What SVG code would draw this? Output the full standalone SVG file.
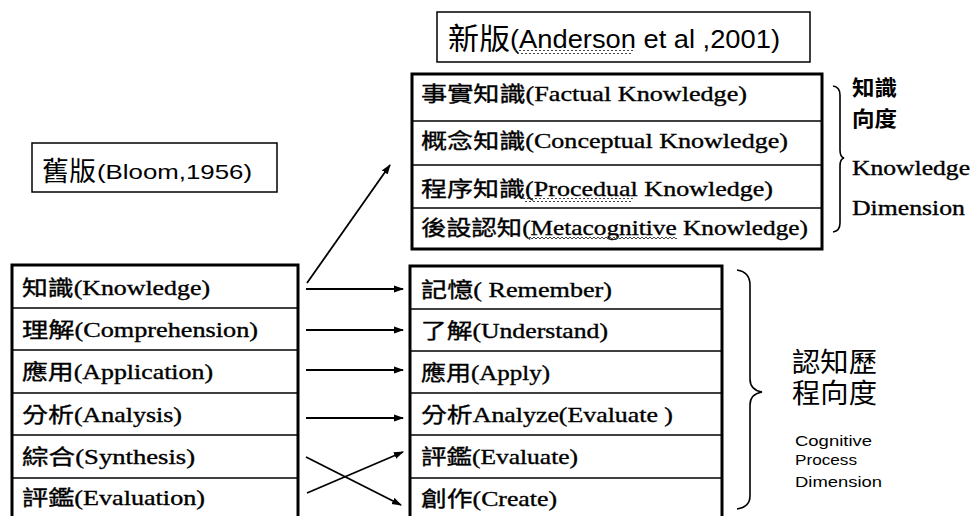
<svg xmlns="http://www.w3.org/2000/svg" width="972" height="516" viewBox="0 0 972 516">
<defs>
<marker id="ah" markerWidth="10" markerHeight="8" refX="9" refY="4" orient="auto" markerUnits="userSpaceOnUse"><path d="M0,0.5 L10,4 L0,7.5 z" fill="#000"/></marker>
<pattern id="wave" width="4" height="4" patternUnits="userSpaceOnUse"><path d="M0,3 L2,1 L4,3" stroke="#444" fill="none" stroke-width="1"/></pattern>
</defs>
<style>
.box{fill:#fff;stroke:#000;stroke-width:3}
.lbl{fill:#fff;stroke:#000;stroke-width:1.5}
.div{stroke:#000;stroke-width:1.5}
.t{font-family:"Liberation Serif","Noto Sans CJK TC",serif;font-size:21px;fill:#000;stroke:#000;stroke-width:0.35}
.s{font-family:"Liberation Sans","Noto Sans CJK TC",sans-serif;fill:#000}
.conn{stroke:#000;stroke-width:1.8;fill:none}
.brace{stroke:#000;stroke-width:1.6;fill:none}
</style>
<rect width="972" height="516" fill="#fff"/>

<g id="header-old">
<rect class="lbl" x="32" y="143" width="245" height="49"/>
<text class="s" x="42" y="181" font-size="27" textLength="54" lengthAdjust="spacingAndGlyphs">舊版</text>
<text class="s" x="97" y="179" font-size="21" textLength="155" lengthAdjust="spacingAndGlyphs">(Bloom,1956)</text>
</g>

<g id="header-new">
<rect class="lbl" x="437" y="12" width="373" height="50"/>
<text class="s" x="448" y="49" font-size="30" textLength="62" lengthAdjust="spacingAndGlyphs">新版</text>
<text class="s" x="510" y="48" font-size="25" textLength="270" lengthAdjust="spacingAndGlyphs">(Anderson et al ,2001)</text>
<rect x="515" y="50" width="118" height="4" fill="url(#wave)"/>
</g>

<g id="knowledge-table">
<rect class="box" x="412" y="74" width="410" height="175"/>
<line class="div" x1="412" y1="121" x2="822" y2="121"/>
<line class="div" x1="412" y1="165" x2="822" y2="165"/>
<line class="div" x1="412" y1="208" x2="822" y2="208"/>
<g id="k-factual"><text class="t" x="421" y="101" textLength="326" lengthAdjust="spacingAndGlyphs">事實知識(Factual Knowledge)</text></g>
<g id="k-conceptual"><text class="t" x="421" y="148" textLength="367" lengthAdjust="spacingAndGlyphs">概念知識(Conceptual Knowledge)</text></g>
<g id="k-procedural"><text class="t" x="421" y="196" textLength="352" lengthAdjust="spacingAndGlyphs">程序知識(Procedual Knowledge)</text>
<rect x="523" y="198" width="110" height="4" fill="url(#wave)"/></g>
<g id="k-meta"><text class="t" x="421" y="235" textLength="387" lengthAdjust="spacingAndGlyphs">後設認知(Metacognitive Knowledge)</text>
<rect x="528" y="237" width="149" height="4" fill="url(#wave)"/></g>
</g>

<g id="old-table">
<rect class="box" x="12" y="265" width="286" height="270"/>
<line class="div" x1="12" y1="308" x2="298" y2="308"/>
<line class="div" x1="12" y1="350" x2="298" y2="350"/>
<line class="div" x1="12" y1="393" x2="298" y2="393"/>
<line class="div" x1="12" y1="435" x2="298" y2="435"/>
<line class="div" x1="12" y1="478" x2="298" y2="478"/>
<g id="o-knowledge"><text class="t" x="22" y="295" textLength="188" lengthAdjust="spacingAndGlyphs">知識(Knowledge)</text></g>
<g id="o-comprehension"><text class="t" x="22" y="337" textLength="236" lengthAdjust="spacingAndGlyphs">理解(Comprehension)</text></g>
<g id="o-application"><text class="t" x="22" y="379" textLength="191" lengthAdjust="spacingAndGlyphs">應用(Application)</text></g>
<g id="o-analysis"><text class="t" x="22" y="422" textLength="160" lengthAdjust="spacingAndGlyphs">分析(Analysis)</text></g>
<g id="o-synthesis"><text class="t" x="22" y="464" textLength="173" lengthAdjust="spacingAndGlyphs">綜合(Synthesis)</text></g>
<g id="o-evaluation"><text class="t" x="22" y="505" textLength="183" lengthAdjust="spacingAndGlyphs">評鑑(Evaluation)</text></g>
</g>

<g id="new-table">
<rect class="box" x="410" y="266" width="312" height="270"/>
<line class="div" x1="410" y1="309" x2="722" y2="309"/>
<line class="div" x1="410" y1="351" x2="722" y2="351"/>
<line class="div" x1="410" y1="393" x2="722" y2="393"/>
<line class="div" x1="410" y1="435" x2="722" y2="435"/>
<line class="div" x1="410" y1="478" x2="722" y2="478"/>
<g id="n-remember"><text class="t" x="421" y="297" textLength="191" lengthAdjust="spacingAndGlyphs">記憶( Remember)</text></g>
<g id="n-understand"><text class="t" x="421" y="338" textLength="187" lengthAdjust="spacingAndGlyphs">了解(Understand)</text></g>
<g id="n-apply"><text class="t" x="421" y="380" textLength="129" lengthAdjust="spacingAndGlyphs">應用(Apply)</text></g>
<g id="n-analyze"><text class="t" x="421" y="422" textLength="252" lengthAdjust="spacingAndGlyphs">分析Analyze(Evaluate )</text></g>
<g id="n-evaluate"><text class="t" x="421" y="464" textLength="157" lengthAdjust="spacingAndGlyphs">評鑑(Evaluate)</text></g>
<g id="n-create"><text class="t" x="421" y="506" textLength="136" lengthAdjust="spacingAndGlyphs">創作(Create)</text></g>
</g>

<g id="knowledge-dimension">
<path class="brace" d="M833,86 Q840,87 840,95 L840,150 Q840,157 844,158 Q840,159 840,166 L840,223 Q840,231 833,232"/>
<text class="s" x="852" y="95" font-size="21" font-weight="bold" textLength="45" lengthAdjust="spacingAndGlyphs">知識</text>
<text class="s" x="852" y="126" font-size="21" font-weight="bold" textLength="45" lengthAdjust="spacingAndGlyphs">向度</text>
<text class="t" x="852" y="175" font-size="22" textLength="118" lengthAdjust="spacingAndGlyphs" stroke-width="0.2">Knowledge</text>
<text class="t" x="852" y="215" font-size="22" textLength="113" lengthAdjust="spacingAndGlyphs" stroke-width="0.2">Dimension</text>
</g>

<g id="cognitive-dimension">
<path class="brace" d="M737,270 Q750,272 750,285 L750,379 Q750,390 762,392 Q750,394 750,405 L750,496 Q750,507 737,509"/>
<text class="s" x="792" y="372" font-size="27" textLength="85" lengthAdjust="spacingAndGlyphs">認知歷</text>
<text class="s" x="792" y="403" font-size="27" textLength="85" lengthAdjust="spacingAndGlyphs">程向度</text>
<text class="s" x="795" y="446" font-size="14" textLength="77" lengthAdjust="spacingAndGlyphs">Cognitive</text>
<text class="s" x="795" y="465" font-size="14" textLength="62" lengthAdjust="spacingAndGlyphs">Process</text>
<text class="s" x="795" y="487" font-size="14" textLength="87" lengthAdjust="spacingAndGlyphs">Dimension</text>
</g>

<g id="connectors">
<path class="conn" d="M307,283 L390,165" marker-end="url(#ah)"/>
<path class="conn" d="M306,289 L403,289" marker-end="url(#ah)"/>
<path class="conn" d="M306,330 L403,330" marker-end="url(#ah)"/>
<path class="conn" d="M306,370 L403,370" marker-end="url(#ah)"/>
<path class="conn" d="M306,418 L403,418" marker-end="url(#ah)"/>
<path class="conn" d="M306,457 L401,505" marker-end="url(#ah)"/>
<path class="conn" d="M307,493 L403,452" marker-end="url(#ah)"/>
</g>
</svg>
